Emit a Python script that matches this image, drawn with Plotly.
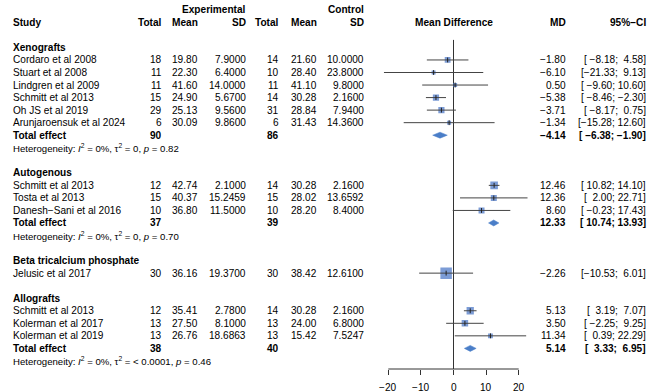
import plotly.graph_objects as go

# ---------------- data ----------------
group_names = ["Xenografts", "Autogenous", "Beta tricalcium phosphate", "Allografts"]
group_sizes = [6, 3, 1, 3]

studies = ["Cordaro et al 2008", "Stuart et al 2008", "Lindgren et al 2009", "Schmitt et al 2013",
           "Oh JS et al 2019", "Arunjaroensuk et al 2024",
           "Schmitt et al 2013", "Tosta et al 2013", "Danesh\u2212Sani et al 2016",
           "Jelusic et al 2017",
           "Schmitt et al 2013", "Kolerman et al 2017", "Kolerman et al 2019"]
exp_n = [18, 11, 11, 15, 29, 6, 12, 15, 10, 30, 12, 13, 13]
exp_mean = [19.80, 22.30, 41.60, 24.90, 25.13, 30.09, 42.74, 40.37, 36.80, 36.16, 35.41, 27.50, 26.76]
exp_sd = [7.9000, 6.4000, 14.0000, 5.6700, 9.5600, 9.8600, 2.1000, 15.2459, 11.5000, 19.3700, 2.7800, 8.1000, 18.6863]
ctl_n = [14, 10, 11, 14, 31, 6, 14, 15, 10, 30, 14, 13, 13]
ctl_mean = [21.60, 28.40, 41.10, 30.28, 28.84, 31.43, 30.28, 28.02, 28.20, 38.42, 30.28, 24.00, 15.42]
ctl_sd = [10.0000, 23.8000, 9.8000, 2.1600, 7.9400, 14.3600, 2.1600, 13.6592, 8.4000, 12.6100, 2.1600, 6.8000, 7.5247]
md = [-1.80, -6.10, 0.50, -5.38, -3.71, -1.34, 12.46, 12.36, 8.60, -2.26, 5.13, 3.50, 11.34]
ci_lo = [-8.18, -21.33, -9.60, -8.46, -8.17, -15.28, 10.82, 2.00, -0.23, -10.53, 3.19, -2.25, 0.39]
ci_hi = [4.58, 9.13, 10.60, -2.30, 0.75, 12.60, 14.10, 22.71, 17.43, 6.01, 7.07, 9.25, 22.29]
weight_size = [5.8, 4, 4, 6.2, 6.2, 4, 7.6, 6, 6, 11.5, 7.3, 6.5, 4.8]

tot_exp_n = [90, 37, None, 38]
tot_ctl_n = [86, 39, None, 40]
tot_md = [-4.14, 12.33, None, 5.14]
tot_lo = [-6.38, 10.74, None, 3.33]
tot_hi = [-1.90, 13.93, None, 6.95]
het_tau = ["0", "0", None, "< 0.0001"]
het_p = ["0.82", "0.70", None, "0.46"]
het_i2 = ["0%", "0%", None, "0%"]

x_ticks = [-20, -10, 0, 10, 20]

# ---------------- helpers ----------------
NB = "\u00a0"
MINUS = "\u2212"
FONT = "Liberation Sans, Arial, Helvetica, sans-serif"
FS = 10.1
W, H = 669, 392


def num(v, nd=2, width=0):
    s = f"{v:{width}.{nd}f}"
    return s.replace("-", MINUS).replace(" ", NB)


def ci_text(lo, hi):
    return "[" + num(lo, 2, 6) + ";" + NB + num(hi, 2, 5) + "]"


def px(xpix):
    return xpix / W


# row geometry (row units, top=0)
ROW0 = 9.8
ROWH = 12.54
y_top = -ROW0 / ROWH
AXIS_PIX = 369
TICKLAB_PIX = 387
y_bot = (AXIS_PIX - ROW0) / ROWH

# column x positions (pixels)
X_STUDY = 11.5
X_ETOT, X_EMEAN, X_ESD = 163, 199, 247
X_CTOT, X_CMEAN, X_CSD = 280, 318, 365
X_MD, X_CI = 567, 647
X_ZERO = 453.5
SCALE = 3.26  # px per unit
XR = 30

annotations = []


def txt(x, row, text, anchor="right", bold=False, size=FS):
    if bold:
        text = "<b>" + text + "</b>"
    annotations.append(dict(x=px(x), y=row, xref="paper", yref="y", text=text, showarrow=False,
                            xanchor=anchor, yanchor="middle", borderpad=0,
                            font=dict(family=FONT, size=size, color="black")))


# headers
txt(X_ESD, 0, "Experimental", bold=True)
txt(X_CSD, 0, "Control", bold=True)
txt(X_STUDY, 1, "Study", anchor="left", bold=True)
for xx, t in [(X_ETOT, "Total"), (X_EMEAN, "Mean"), (X_ESD, "SD"),
              (X_CTOT, "Total"), (X_CMEAN, "Mean"), (X_CSD, "SD"),
              (X_MD, "MD"), (X_CI, "95%" + MINUS + "CI")]:
    txt(xx, 1, t, bold=True)
annotations.append(dict(x=X_ZERO / W, y=1, xref="paper", yref="y", text="<b>Mean Difference</b>",
                        showarrow=False, xanchor="center", yanchor="middle",
                        font=dict(family=FONT, size=FS, color="black")))

# tick labels placed through the x axis scale
for tv in x_ticks:
    annotations.append(dict(x=tv, y=1 - TICKLAB_PIX / H, xref="x", yref="paper",
                            text=str(tv).replace("-", MINUS), showarrow=False,
                            xanchor="center", yanchor="middle", borderpad=0,
                            font=dict(family=FONT, size=FS, color="black")))

fig = go.Figure()

sq_x, sq_y, sq_s = [], [], []
line_x, line_y = [], []
dia_traces = []

row = 3
i = 0
for g, gname in enumerate(group_names):
    txt(X_STUDY, row, gname, anchor="left", bold=True)
    row += 1
    for _ in range(group_sizes[g]):
        txt(X_STUDY, row, studies[i], anchor="left")
        txt(X_ETOT, row, str(exp_n[i]))
        txt(X_EMEAN, row, num(exp_mean[i]))
        txt(X_ESD, row, num(exp_sd[i], 4))
        txt(X_CTOT, row, str(ctl_n[i]))
        txt(X_CMEAN, row, num(ctl_mean[i]))
        txt(X_CSD, row, num(ctl_sd[i], 4))
        txt(X_MD, row, num(md[i]))
        txt(X_CI, row, ci_text(ci_lo[i], ci_hi[i]))
        sq_x.append(md[i]); sq_y.append(row); sq_s.append(weight_size[i])
        line_x += [ci_lo[i], ci_hi[i], None]
        line_y += [row, row, None]
        row += 1
        i += 1
    if tot_md[g] is not None:
        txt(X_STUDY, row, "Total effect", anchor="left", bold=True)
        txt(X_ETOT, row, str(tot_exp_n[g]), bold=True)
        txt(X_CTOT, row, str(tot_ctl_n[g]), bold=True)
        txt(X_MD, row, num(tot_md[g]), bold=True)
        txt(X_CI, row, ci_text(tot_lo[g], tot_hi[g]), bold=True)
        hh = 3.0 / ROWH
        dia_traces.append(([tot_lo[g], tot_md[g], tot_hi[g], tot_md[g], tot_lo[g]],
                           [row, row - hh, row, row + hh, row]))
        row += 1
        het = ("Heterogeneity: <i>I</i><sup>2</sup> = " + het_i2[g] + ", \u03c4<sup>2</sup> = "
               + het_tau[g] + ", <i>p</i> = " + het_p[g])
        txt(X_STUDY, row, het, anchor="left", size=9.6)
        row += 1
    row += 1

# zero line
fig.add_trace(go.Scatter(x=[0, 0], y=[2.4, y_bot], mode="lines",
                         line=dict(color="#333333", width=1), hoverinfo="skip", showlegend=False))
# squares
fig.add_trace(go.Scatter(x=sq_x, y=sq_y, mode="markers",
                         marker=dict(symbol="square", size=sq_s, color="#4472C4",
                                     line=dict(width=0)),
                         hoverinfo="skip", showlegend=False))
# CI lines
fig.add_trace(go.Scatter(x=line_x, y=line_y, mode="lines",
                         line=dict(color="#444444", width=1), hoverinfo="skip", showlegend=False))
# centre ticks
fig.add_trace(go.Scatter(x=sq_x, y=sq_y, mode="markers",
                         marker=dict(symbol="line-ns", size=3.5, line=dict(color="#222222", width=1)),
                         hoverinfo="skip", showlegend=False))
# diamonds
for dx, dy in dia_traces:
    fig.add_trace(go.Scatter(x=dx, y=dy, mode="lines", fill="toself", fillcolor="#4A7EC8",
                             line=dict(color="#4A7EC8", width=0.5), hoverinfo="skip", showlegend=False))

x0_pix = X_ZERO - XR * SCALE
x1_pix = X_ZERO + XR * SCALE

fig.update_layout(
    width=W, height=H, margin=dict(l=0, r=0, t=0, b=0),
    paper_bgcolor="white", plot_bgcolor="rgba(0,0,0,0)",
    font=dict(family=FONT, size=FS, color="black"),
    xaxis=dict(domain=[x0_pix / W, x1_pix / W], range=[-XR, XR], showgrid=False, zeroline=False,
               showline=False, ticks="outside", ticklen=5, tickwidth=1, tickcolor="#333333",
               tickvals=x_ticks, showticklabels=False, automargin=False, fixedrange=True),
    yaxis=dict(domain=[1 - AXIS_PIX / H, 1], range=[y_bot, y_top], visible=False,
               automargin=False, fixedrange=True),
    shapes=[dict(type="line", xref="x", yref="y domain", x0=x_ticks[0], x1=x_ticks[-1], y0=0, y1=0,
                 line=dict(color="#333333", width=1))],
    annotations=annotations,
    showlegend=False,
)

fig.write_html("out.html", config={"displayModeBar": False},
               post_script="document.body.style.margin='0px';document.body.style.overflow='hidden';")
